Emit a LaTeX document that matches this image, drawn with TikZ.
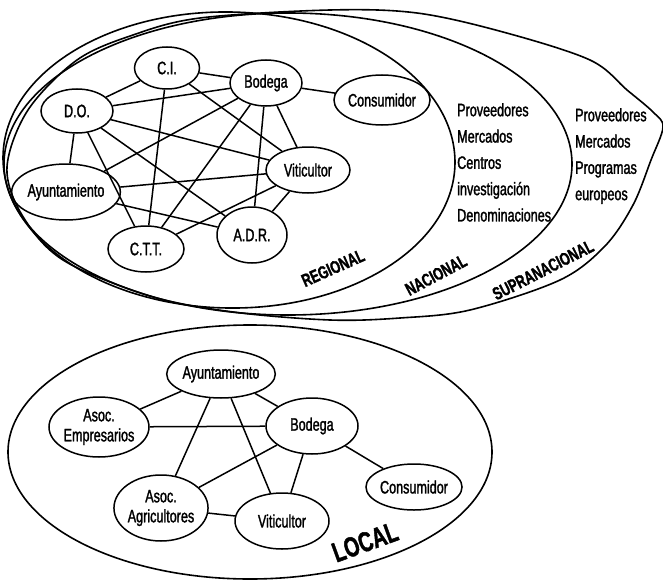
\documentclass[tikz,border=0pt]{standalone}
\usepackage{fontspec}
\setmainfont{Liberation Sans}[FakeStretch=0.7, FakeBold=1.5]
\usepackage{tikz}
\usetikzlibrary{shapes}
\tikzset{actor/.style = {ellipse, draw, line width = 1.5pt, inner sep = 0pt, align = center}}
\tikzset{link/.style = {line width = 1.5pt}}
\tikzset{level/.style = {font = \fontsize{18}{20}\selectfont\bfseries}}

\begin{document}
\begin{tikzpicture}[x = 1pt, y = -1pt, font = \fontsize{18}{20}\selectfont]
\useasboundingbox (0,0) rectangle (663,583);
\begin{scope}
\clip (0,0) rectangle (663,583);
\draw[line width = 1.6pt] plot[smooth cycle, tension = 0.55] coordinates {(7,167) (28,110) (77,60) (133,35) (200,18) (330,10) (417,13) (503,32) (590,60) (627,90) (653,112) (663,127) (651,160) (633,205) (605,246) (560,280) (470,310) (400,318) (330,320) (233,312) (150,296) (63,260) (22,215)};
\end{scope}
\draw[line width = 1.6pt] (288,164) ellipse [x radius = 284, y radius = 151];
\draw[line width = 1.6pt, rotate around = {-1:(229,160)}] (229,160) ellipse [x radius = 226, y radius = 148];
\node[actor, minimum width = 65, minimum height = 42] (ci) at (167,68) {C.I.};
\node[actor, minimum width = 72, minimum height = 46] (bod) at (266,83) {Bodega};
\node[actor, minimum width = 72, minimum height = 44] (do) at (77,111) {D.O.};
\node[actor, minimum width = 90, minimum height = 50] (con) at (382,100) {Consumidor};
\node[actor, minimum width = 84, minimum height = 46] (vit) at (308,170) {Viticultor};
\node[actor, minimum width = 88, minimum height = 56] (ayu) at (66,192) {Ayuntamiento};
\node[actor, minimum width = 76, minimum height = 46] (ctt) at (146,249) {C.T.T.};
\node[actor, minimum width = 70, minimum height = 56] (adr) at (252,235) {A.D.R.};
\draw[link] (do) -- (ci);
\draw[link] (ci) -- (bod);
\draw[link] (bod) -- (con);
\draw[link] (do) -- (ayu);
\draw[link] (do) -- (bod);
\draw[link] (do) -- (vit);
\draw[link] (do) -- (adr);
\draw[link] (do) -- (ctt);
\draw[link] (ci) -- (ctt);
\draw[link] (ci) -- (vit);
\draw[link] (bod) -- (ayu);
\draw[link] (bod) -- (ctt);
\draw[link] (bod) -- (adr);
\draw[link] (bod) -- (vit);
\draw[link] (ayu) -- (vit);
\draw[link] (ayu) -- (adr);
\draw[link] (ctt) -- (vit);
\draw[link] (adr) -- (vit);
\node[anchor = north west, inner sep = 0pt, align = left, font = \fontsize{18}{26.3}\selectfont] (nac) at (457,103)
  {Proveedores\\Mercados\\Centros\\investigación\\Denominaciones};
\node[anchor = north west, inner sep = 0pt, align = left, font = \fontsize{18}{26.3}\selectfont] (sup) at (575,108)
  {Proveedores\\Mercados\\Programas\\europeos};
\node[level, rotate = 24] (lreg) at (333,268) {REGIONAL};
\node[level, rotate = 28] (lnac) at (436,275) {NACIONAL};
\node[level, rotate = 27] (lsup) at (543,270) {SUPRANACIONAL};
\draw[line width = 1.6pt] (250,452) ellipse [x radius = 242, y radius = 127];
\node[actor, minimum width = 92, minimum height = 48] (layu) at (221,374) {Ayuntamiento};
\node[actor, minimum width = 92, minimum height = 60] (lemp) at (99,427) {Asoc.\\Empresarios};
\node[actor, minimum width = 92, minimum height = 56] (lbod) at (312,426) {Bodega};
\node[actor, minimum width = 86, minimum height = 46] (lcon) at (414,487) {Consumidor};
\node[actor, minimum width = 92, minimum height = 66] (lagr) at (161,508) {Asoc.\\Agricultores};
\node[actor, minimum width = 94, minimum height = 56] (lvit) at (282,521) {Viticultor};
\draw[link] (layu) -- (lemp);
\draw[link] (layu) -- (lbod);
\draw[link] (layu) -- (lagr);
\draw[link] (layu) -- (lvit);
\draw[link] (lemp) -- (lbod);
\draw[link] (lbod) -- (lcon);
\draw[link] (lbod) -- (lagr);
\draw[link] (lbod) -- (lvit);
\draw[link] (lagr) -- (lvit);
\node[level, rotate = 20, font = \fontsize{28}{30}\selectfont\bfseries] (lloc) at (365,542) {LOCAL};
\end{tikzpicture}
\end{document}
